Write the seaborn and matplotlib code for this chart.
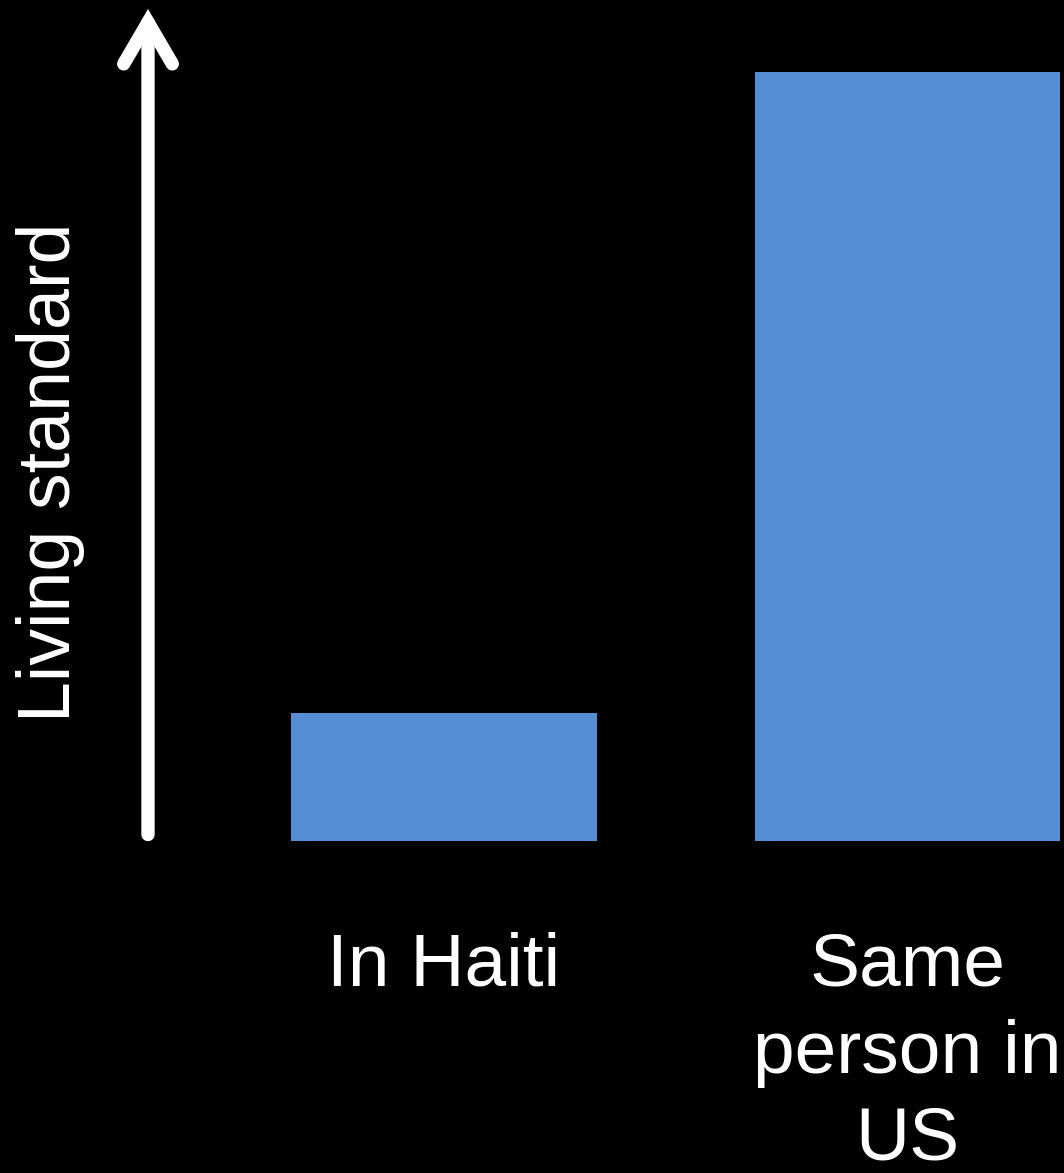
# ============================================================
# Living standard: same person, Haiti vs US
# ============================================================

import matplotlib
matplotlib.use('Agg')
import matplotlib.pyplot as plt
import seaborn as sns

# ------------------------------------------------------------
# DATA
# ------------------------------------------------------------
categories = ["In Haiti", "Same\nperson in\nUS"]
living_standard = [1.0, 6.0]

BAR_COLOR = "#558ED5"
BG = "black"
FG = "white"

sns.set_theme(style="white")
plt.rcParams['font.family'] = ['Liberation Sans', 'DejaVu Sans']

# ------------------------------------------------------------
# FIGURE
# ------------------------------------------------------------
fig = plt.figure(figsize=(10.64, 11.73), dpi=100, facecolor=BG)
ax = fig.add_axes([148 / 1064, 332 / 1173, 916 / 1064, 841 / 1173])
ax.set_facecolor(BG)

sns.barplot(x=categories, y=living_standard, color=BAR_COLOR,
            saturation=1, width=0.66, linewidth=0, edgecolor=BAR_COLOR, ax=ax)

ax.set_xlim(-0.6386, 1.3376)
ax.set_ylim(0, 6.562)

for side in ax.spines.values():
    side.set_visible(False)

ax.set_yticks([])
ax.tick_params(axis='x', length=0, pad=65, labelsize=54, colors=FG)
for lbl in ax.get_xticklabels():
    lbl.set_linespacing(1.34)
ax.set_xlabel('')

ax.set_ylabel('Living standard', fontsize=53, color=FG)
ax.yaxis.set_label_coords(-0.069, 0.438)

# white arrow acting as the y axis
ax.annotate('', xy=(0, 0.9893), xytext=(0, 0.0077),
            xycoords='axes fraction', textcoords='axes fraction',
            arrowprops=dict(arrowstyle='->,head_length=3.0,head_width=1.75',
                            mutation_scale=10, lw=9.6, color=FG,
                            capstyle='round', joinstyle='miter',
                            shrinkA=0, shrinkB=0),
            annotation_clip=False)

plt.savefig('out.png', dpi=100, facecolor=BG)
plt.close()
